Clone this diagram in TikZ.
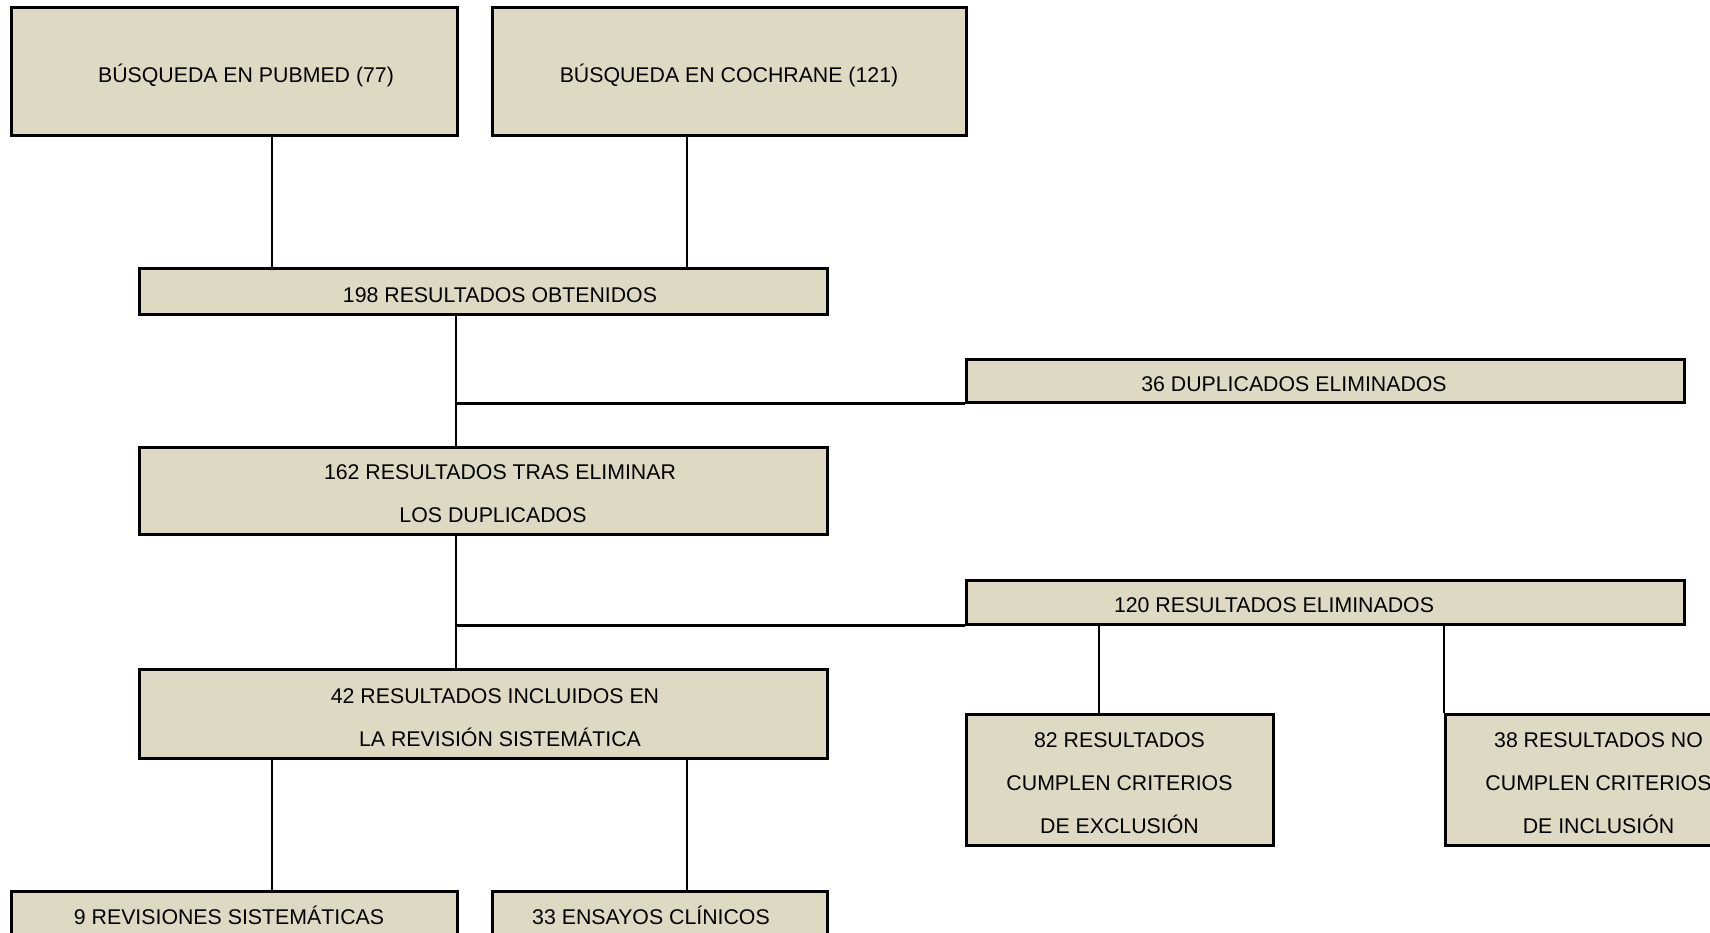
\documentclass[tikz,border=0pt]{standalone}
\usepackage{fontspec}
\setmainfont{Liberation Sans}
\definecolor{boxfill}{RGB}{221,217,195}

\begin{document}
\begin{tikzpicture}[x=1pt, y=-1pt,
    flowbox/.style={rectangle, draw, line width=3pt, fill=boxfill, align=center, inner sep=0pt, font=\fontsize{21.3}{43}\selectfont, text height=21pt, text depth=0pt},
    vline/.style={line width=2pt},
    hline/.style={line width=2.7pt}
]
    \clip (0,0) rectangle (1710,933);
    \fill[white] (0,0) rectangle (1710,933);

    % Búsquedas
    \node[flowbox, minimum width=446pt, minimum height=128pt] (pubmed) at (234,72) {\hspace*{24pt}BÚSQUEDA EN PUBMED (77)};
    \node[flowbox, minimum width=474pt, minimum height=128pt] (cochrane) at (729,72) {BÚSQUEDA EN COCHRANE (121)};

    % Columna principal
    \node[flowbox, minimum width=688pt, minimum height=45pt] (obtenidos) at (483,291.5) {\hspace*{34pt}198 RESULTADOS OBTENIDOS};
    \node[flowbox, minimum width=688pt, minimum height=87pt, text height=64pt] (tras) at (483,490.5) {\hspace*{34pt}162 RESULTADOS TRAS ELIMINAR\\\hspace*{20pt}LOS DUPLICADOS};
    \node[flowbox, minimum width=688pt, minimum height=89pt, text height=66pt] (incluidos) at (483,713.5) {\hspace*{24pt}42 RESULTADOS INCLUIDOS EN\\\hspace*{34pt}LA REVISIÓN SISTEMÁTICA};
    \node[flowbox, minimum width=446pt, minimum height=45pt] (revisiones) at (234,913.5) {9 REVISIONES SISTEMÁTICAS\hspace*{10pt}};
    \node[flowbox, minimum width=335pt, minimum height=45pt] (ensayos) at (659.5,913.5) {33 ENSAYOS CLÍNICOS\hspace*{17pt}};

    % Eliminados
    \node[flowbox, minimum width=718pt, minimum height=43pt] (duplicados) at (1325,380.5) {36 DUPLICADOS ELIMINADOS\hspace*{62pt}};
    \node[flowbox, minimum width=718pt, minimum height=44pt] (eliminados) at (1325,602) {120 RESULTADOS ELIMINADOS\hspace*{102pt}};
    \node[flowbox, minimum width=307pt, minimum height=131pt, text height=108pt] (exclusion) at (1119.5,779.5) {82 RESULTADOS\\CUMPLEN CRITERIOS\\DE EXCLUSIÓN};
    \node[flowbox, minimum width=307pt, minimum height=131pt, text height=108pt] (inclusion) at (1598.5,779.5) {38 RESULTADOS NO\\CUMPLEN CRITERIOS\\DE INCLUSIÓN};

    % Ejes de las lineas
    \coordinate (lft) at (272,0);
    \coordinate (mid) at (456,0);
    \coordinate (rgt) at (687,0);
    \coordinate (exc) at (1099,0);

    % Conexiones
    \draw[vline] (lft |- pubmed.south) -- (lft |- obtenidos.north);
    \draw[vline] (rgt |- cochrane.south) -- (rgt |- obtenidos.north);
    \draw[vline] (mid |- obtenidos.south) -- (mid |- tras.north);
    \draw[hline] (mid |- duplicados.south) -- (duplicados.south west);
    \draw[vline] (mid |- tras.south) -- (mid |- incluidos.north);
    \draw[hline] (mid |- eliminados.south) -- (eliminados.south west);
    \draw[vline] (exc |- eliminados.south) -- (exc |- exclusion.north);
    \draw[vline] (inclusion.north west |- eliminados.south) -- (inclusion.north west);
    \draw[vline] (lft |- incluidos.south) -- (lft |- revisiones.north);
    \draw[vline] (rgt |- incluidos.south) -- (rgt |- ensayos.north);

\end{tikzpicture}
\end{document}
